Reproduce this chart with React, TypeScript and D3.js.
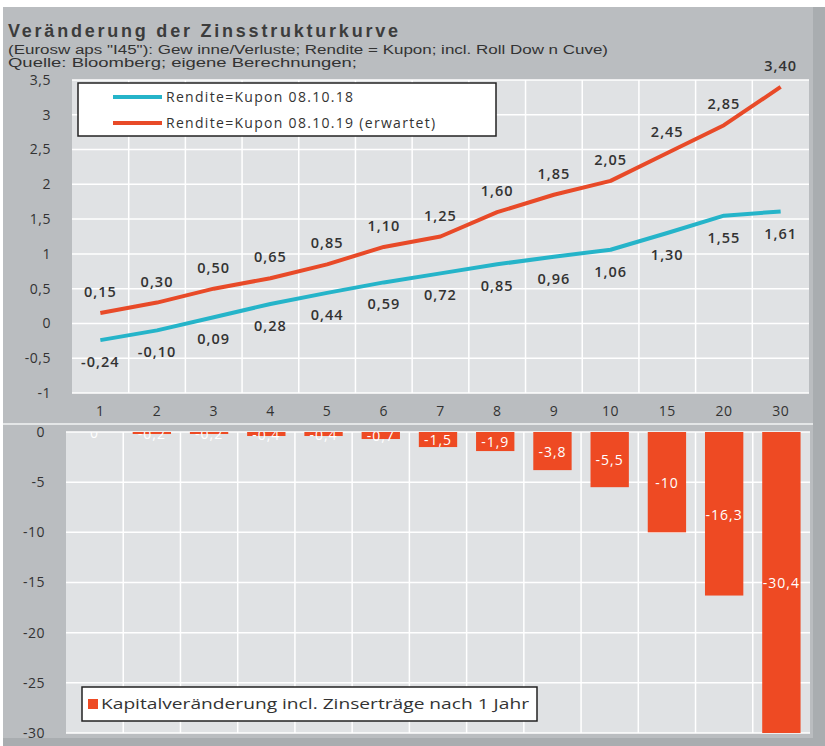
import React from "react";
import * as d3 from "d3";

const categories = ["1", "2", "3", "4", "5", "6", "7", "8", "9", "10", "15", "20", "30"];
const rendite2018 = [-0.24, -0.1, 0.09, 0.28, 0.44, 0.59, 0.72, 0.85, 0.96, 1.06, 1.3, 1.55, 1.61];
const rendite2019 = [0.15, 0.3, 0.5, 0.65, 0.85, 1.1, 1.25, 1.6, 1.85, 2.05, 2.45, 2.85, 3.4];
const kapital = [0, -0.2, -0.2, -0.4, -0.4, -0.7, -1.5, -1.9, -3.8, -5.5, -10, -16.3, -30.4];
const topTicks = [-1, -0.5, 0, 0.5, 1, 1.5, 2, 2.5, 3, 3.5];
const bottomTicks = [0, -5, -10, -15, -20, -25, -30];

const legendTop = ["Rendite=Kupon 08.10.18", "Rendite=Kupon 08.10.19 (erwartet)"];
const legendBottom = "Kapitalveränderung incl. Zinserträge nach 1 Jahr";

const W = 825;
const H = 746;
const CYAN = "#25b4c9";
const RED = "#e84a28";
const BAR = "#ee4a23";
const PLOT_BG = "#e0e2e4";
const FONT = "'Open Sans', sans-serif";
const SANS = "'Liberation Sans', Arial, sans-serif";

const de = (v: number) => String(v).replace(".", ",");
const de2 = (v: number) => v.toFixed(2).replace(".", ",");

export default function App() {
  // oberes Diagramm
  const xTop = d3.scaleBand<string>().domain(categories).range([72, 809]);
  const yTop = d3.scaleLinear().domain([-1, 3.5]).range([393, 80]);
  const cx = (c: string) => (xTop(c) as number) + xTop.bandwidth() / 2;

  const line = d3
    .line<number>()
    .x((_, i) => cx(categories[i]))
    .y((d) => yTop(d));

  // unteres Diagramm
  const xBot = d3.scaleBand<string>().domain(categories).range([66, 810]).paddingInner(0.33).paddingOuter(0.165);
  const xBotGrid = d3.scaleBand<string>().domain(categories).range([66, 810]);
  const yBot = d3.scaleLinear().domain([-30, 0]).range([733, 432]);

  return (
    <svg
      width={W}
      height={H}
      style={{ position: "absolute", left: 0, top: 0, fontFamily: FONT }}
    >
      <defs>
        <clipPath id="botClip">
          <rect x={66} y={432} width={744} height={301} />
        </clipPath>
      </defs>
      <rect x={0} y={0} width={W} height={H} fill="#fff" />
      <rect x={3} y={7} width={W - 3} height={H - 7} fill="#babdc0" />
      <rect x={813} y={7} width={12} height={H - 7} fill="#a9adb0" />
      <rect x={3} y={738} width={W - 3} height={8} fill="#a9adb0" />

      {/* Titel */}
      <text x={8} y={37} fontFamily={SANS} fontWeight="bold" fontSize={18} fill="#3c3c3c" textLength={390} lengthAdjust="spacing">
        Veränderung der Zinsstrukturkurve
      </text>
      <text x={8} y={54} fontFamily={SANS} fontSize={12} fill="#333" textLength={600} lengthAdjust="spacingAndGlyphs">
        (Eurosw aps "I45"): Gew inne/Verluste; Rendite = Kupon; incl. Roll Dow n Cuve)
      </text>
      <text x={8} y={67} fontFamily={SANS} fontSize={12} fill="#333" textLength={349} lengthAdjust="spacingAndGlyphs">
        Quelle: Bloomberg; eigene Berechnungen;
      </text>

      {/* oberes Diagramm */}
      <rect x={72} y={80} width={737} height={313} fill={PLOT_BG} />
      {topTicks.map((t) => (
        <line key={"hg" + t} x1={72} x2={809} y1={yTop(t)} y2={yTop(t)} stroke="#fff" strokeWidth={1.5} />
      ))}
      {categories.slice(1).map((c) => (
        <line key={"vg" + c} x1={xTop(c)} x2={xTop(c)} y1={80} y2={393} stroke="#fff" strokeWidth={1.5} />
      ))}
      {topTicks.map((t) => (
        <text key={"yt" + t} x={51} y={yTop(t)} dy="0.35em" textAnchor="end" fontSize={14} fill="#333" letterSpacing={0.5}>
          {de(t)}
        </text>
      ))}
      {categories.map((c) => (
        <text key={"xt" + c} x={cx(c)} y={411} dy="0.35em" textAnchor="middle" fontSize={14} fill="#333" letterSpacing={0.5}>
          {c}
        </text>
      ))}

      <path d={line(rendite2018) ?? ""} fill="none" stroke={CYAN} strokeWidth={4} strokeLinejoin="round" />
      <path d={line(rendite2019) ?? ""} fill="none" stroke={RED} strokeWidth={4} strokeLinejoin="round" />

      {rendite2018.map((v, i) => (
        <text key={"l18" + i} x={cx(categories[i])} y={yTop(v) + 22} dy="0.35em" textAnchor="middle" fontSize={14.5} fontWeight={600} fill="#333" letterSpacing={1}>
          {de2(v)}
        </text>
      ))}
      {rendite2019.map((v, i) => (
        <text key={"l19" + i} x={cx(categories[i])} y={yTop(v) - 21} dy="0.35em" textAnchor="middle" fontSize={14.5} fontWeight={600} fill="#333" letterSpacing={1}>
          {de2(v)}
        </text>
      ))}

      {/* Legende oben */}
      <rect x={78} y={83} width={418} height={53} fill="#fff" stroke="#222" strokeWidth={1.5} />
      {legendTop.map((s, i) => (
        <g key={s}>
          <line x1={113} x2={162} y1={97 + i * 26} y2={97 + i * 26} stroke={i === 0 ? CYAN : RED} strokeWidth={4} />
          <text x={166} y={97 + i * 26} dy="0.35em" fontSize={14} fill="#333" letterSpacing={1.3}>
            {s}
          </text>
        </g>
      ))}

      {/* Trennlinie */}
      <line x1={3} x2={813} y1={424} y2={424} stroke="#e4e6e7" strokeWidth={2} />

      {/* unteres Diagramm */}
      <rect x={66} y={432} width={744} height={301} fill={PLOT_BG} />
      {bottomTicks.map((t) => (
        <line key={"bh" + t} x1={66} x2={810} y1={yBot(t)} y2={yBot(t)} stroke="#fff" strokeWidth={1.5} />
      ))}
      {categories.slice(1).map((c) => (
        <line key={"bv" + c} x1={xBotGrid(c)} x2={xBotGrid(c)} y1={432} y2={733} stroke="#fff" strokeWidth={1.5} />
      ))}
      {bottomTicks.map((t) => (
        <text key={"by" + t} x={45} y={yBot(t)} dy="0.35em" textAnchor="end" fontSize={14} fill="#333" letterSpacing={0.5}>
          {de(t)}
        </text>
      ))}
      <g clipPath="url(#botClip)">
        {kapital.map((v, i) => {
          const y0 = yBot(0);
          const y1 = yBot(Math.max(v, -30));
          return (
            <rect key={"b" + i} x={xBot(categories[i])} y={y0} width={xBot.bandwidth()} height={y1 - y0} fill={BAR} />
          );
        })}
        {kapital.map((v, i) => {
          const y0 = yBot(0);
          const y1 = yBot(Math.max(v, -30));
          return (
            <text key={"bl" + i} x={(xBot(categories[i]) as number) + xBot.bandwidth() / 2} y={(y0 + y1) / 2 + 1} dy="0.35em" textAnchor="middle" fontSize={14} fill="#fff" letterSpacing={1}>
              {de(v)}
            </text>
          );
        })}
      </g>

      {/* Legende unten */}
      <rect x={82} y={687} width={455} height={34} fill="#fff" stroke="#222" strokeWidth={1.5} />
      <rect x={88} y={699} width={10} height={10} fill={BAR} />
      <text x={101} y={704} dy="0.35em" fontSize={15} fill="#333" textLength={428} lengthAdjust="spacingAndGlyphs">
        {legendBottom}
      </text>
    </svg>
  );
}
